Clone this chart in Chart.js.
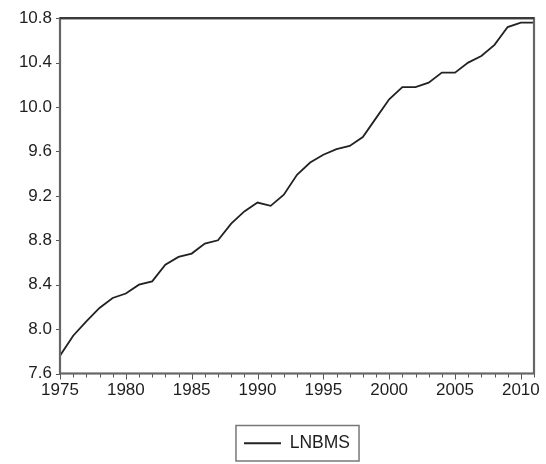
<!DOCTYPE html>
<html>
<head>
<meta charset="utf-8">
<script src="https://cdn.jsdelivr.net/npm/chart.js@4/dist/chart.umd.min.js"></script>
<style>
  html, body { margin: 0; padding: 0; background: #ffffff; }
  #wrap { width: 546px; height: 464px; }
</style>
</head>
<body>
<div id="wrap"><canvas id="c" width="546" height="464"></canvas></div>
<script>
// Annual observations, 1975-2011
const years = [1975,1976,1977,1978,1979,1980,1981,1982,1983,1984,1985,1986,1987,1988,1989,1990,
               1991,1992,1993,1994,1995,1996,1997,1998,1999,2000,2001,2002,2003,2004,2005,2006,
               2007,2008,2009,2010,2011];
const lnbms = [7.76,7.94,8.07,8.19,8.28,8.32,8.40,8.43,8.58,8.65,8.68,8.77,8.80,8.95,9.06,9.14,
               9.11,9.21,9.39,9.50,9.57,9.62,9.65,9.73,9.90,10.07,10.18,10.18,10.22,10.31,10.31,10.40,
               10.46,10.56,10.72,10.76,10.76];
const seriesName = 'LNBMS';
const yTicks = [7.6, 8.0, 8.4, 8.8, 9.2, 9.6, 10.0, 10.4, 10.8];

const FONT = '"Liberation Sans", Arial, sans-serif';
const INK = '#1e1e1e';

// Frame around the plot, year ticks (long every 5 years), and boxed legend
const framePlugin = {
  id: 'frame',
  afterDraw(chart) {
    const ctx = chart.ctx;
    const a = chart.chartArea;
    const xs = chart.scales.x;
    const ys = chart.scales.y;
    ctx.save();
    // year ticks below the axis
    ctx.strokeStyle = '#555';
    ctx.lineWidth = 1;
    for (let yr = xs.min; yr <= xs.max; yr++) {
      const px = Math.round(xs.getPixelForValue(yr)) + 0.5;
      const len = (yr % 5 === 0) ? 6 : 4;
      ctx.beginPath();
      ctx.moveTo(px, a.bottom);
      ctx.lineTo(px, a.bottom + len);
      ctx.stroke();
    }
    // value ticks left of the axis
    yTicks.forEach(v => {
      const py = Math.round(ys.getPixelForValue(v)) + 0.5;
      ctx.beginPath();
      ctx.moveTo(a.left - 4, py);
      ctx.lineTo(a.left, py);
      ctx.stroke();
    });
    // plot frame
    ctx.lineWidth = 2.2;
    ctx.strokeStyle = '#666';
    ctx.strokeRect(a.left, a.top, a.right - a.left, a.bottom - a.top);
    ctx.strokeStyle = '#3a3a3a';
    ctx.beginPath();
    ctx.moveTo(a.left, a.top);
    ctx.lineTo(a.right, a.top);
    ctx.stroke();
    // legend box
    const lg = chart.legend;
    if (lg && lg.legendHitBoxes && lg.legendHitBoxes.length) {
      const hb = lg.legendHitBoxes[0];
      ctx.strokeStyle = '#777';
      ctx.lineWidth = 1.5;
      ctx.strokeRect(hb.left - 8, hb.top - 9, hb.width + 17, hb.height + 18);
    }
    ctx.restore();
  }
};

new Chart(document.getElementById('c'), {
  type: 'line',
  data: {
    datasets: [{
      label: seriesName,
      data: years.map((y, i) => ({ x: y, y: lnbms[i] })),
      borderColor: '#222',
      borderWidth: 1.8,
      pointRadius: 0,
      tension: 0,
      fill: false
    }]
  },
  options: {
    responsive: false,
    animation: false,
    devicePixelRatio: 1,
    layout: { padding: { left: 0, right: 12, top: 18, bottom: 2 } },
    plugins: {
      tooltip: { enabled: false },
      legend: {
        position: 'bottom',
        fullSize: false,
        labels: {
          usePointStyle: true,
          pointStyle: 'line',
          pointStyleWidth: 37,
          color: INK,
          padding: 10,
          font: { family: FONT, size: 17.5 }
        }
      }
    },
    scales: {
      x: {
        type: 'linear',
        min: 1975,
        max: 2011,
        afterFit: s => { s.height = 51; },
        grid: { display: false, drawTicks: false },
        border: { display: false },
        ticks: {
          stepSize: 1,
          autoSkip: false,
          maxRotation: 0,
          padding: 7,
          color: INK,
          font: { family: FONT, size: 17 },
          callback: v => (v % 5 === 0 ? String(v) : '')
        }
      },
      y: {
        min: 7.6,
        max: 10.8,
        afterFit: s => { s.width = 60; },
        afterBuildTicks: s => { s.ticks = yTicks.map(v => ({ value: v })); },
        grid: { display: false, drawTicks: false },
        border: { display: false },
        ticks: {
          padding: 8,
          color: INK,
          font: { family: FONT, size: 17 },
          callback: v => Number(v).toFixed(1)
        }
      }
    }
  },
  plugins: [framePlugin]
});
</script>
</body>
</html>
